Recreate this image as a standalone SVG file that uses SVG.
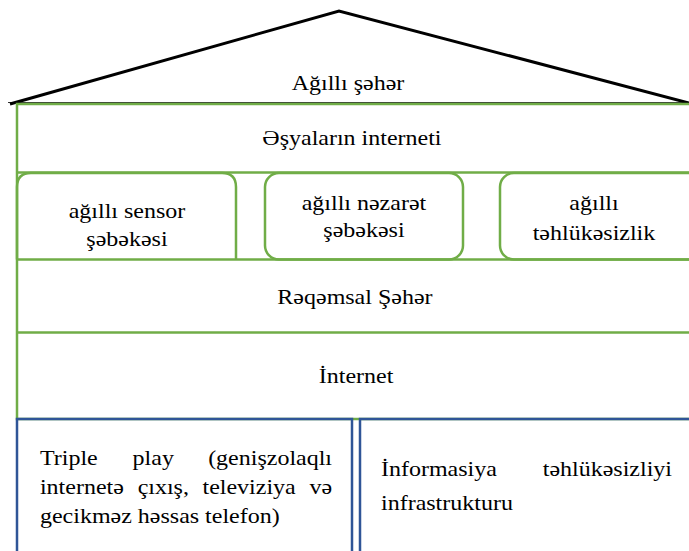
<svg xmlns="http://www.w3.org/2000/svg" width="689" height="551" viewBox="0 0 689 551">
  <style>
    .g { fill: none; stroke: #70AD47; stroke-width: 2.5; }
    .b { fill: none; stroke: #2F5597; stroke-width: 2.5; }
    .t { font-family: "Liberation Serif", "Times New Roman", serif; font-size: 20px; fill: #000; }
    .m { text-anchor: middle; }
    .e { text-anchor: end; }
  </style>
  <rect width="689" height="551" fill="#fff"/>

  <!-- roof -->
  <g id="roof">
    <line x1="8" y1="102.5" x2="689" y2="102.5" stroke="#333" stroke-width="1.2"/>
    <polyline points="10,104 339,11 689,103" fill="none" stroke="#000" stroke-width="3" stroke-linejoin="miter"/>
  </g>

  <!-- green layered bands -->
  <g id="bands">
    <rect class="g" x="17" y="104" width="690" height="315"/>
    <line class="g" x1="17" y1="172.5" x2="700" y2="172.5"/>
    <line class="g" x1="17" y1="259.5" x2="700" y2="259.5"/>
    <line class="g" x1="17" y1="332.5" x2="700" y2="332.5"/>
  </g>

  <!-- rounded component boxes -->
  <g id="box-sensor">
    <path class="g" fill="#fff" d="M17,259.5 V187 Q17,173 31,173 H222 Q236,173 236,187 V259.5"/>
  </g>
  <g id="box-nezaret">
    <rect class="g" x="265" y="173" width="198" height="86.5" rx="14"/>
  </g>
  <g id="box-tehlukesizlik">
    <rect class="g" x="500" y="173" width="210" height="86.5" rx="14"/>
  </g>

  <!-- blue base boxes -->
  <g id="box-triple">
    <rect class="b" x="17" y="419" width="335" height="150"/>
  </g>
  <g id="box-info">
    <rect class="b" x="360" y="419" width="340" height="150"/>
  </g>

  <!-- labels, set in a horizontally widened serif -->
  <g id="labels" transform="scale(1.2 1)">
    <text class="t m" x="290" y="90">Ağıllı şəhər</text>
    <text class="t m" x="293.3" y="145">Əşyaların interneti</text>

    <text class="t m" x="105.8" y="218">ağıllı sensor</text>
    <text class="t m" x="105.8" y="246">şəbəkəsi</text>

    <text class="t m" x="303.3" y="210">ağıllı nəzarət</text>
    <text class="t m" x="303.3" y="237">şəbəkəsi</text>

    <text class="t m" x="495" y="210">ağıllı</text>
    <text class="t m" x="495" y="240">təhlükəsizlik</text>

    <text class="t m" x="295.8" y="304">Rəqəmsal Şəhər</text>
    <text class="t m" x="296.7" y="383">İnternet</text>

    <text class="t" x="33.3" y="465">Triple</text>
    <text class="t m" x="127.7" y="465">play</text>
    <text class="t e" x="276.7" y="465">(genişzolaqlı</text>

    <text class="t" x="33.3" y="494">internetə</text>
    <text class="t m" x="136.1" y="494">çıxış,</text>
    <text class="t m" x="207.6" y="494">televiziya</text>
    <text class="t e" x="276.7" y="494">və</text>

    <text class="t" x="33.3" y="523">gecikməz həssas telefon)</text>

    <text class="t" x="317.5" y="476">İnformasiya</text>
    <text class="t e" x="560" y="476">təhlükəsizliyi</text>
    <text class="t" x="317.5" y="510">infrastrukturu</text>
  </g>
</svg>
